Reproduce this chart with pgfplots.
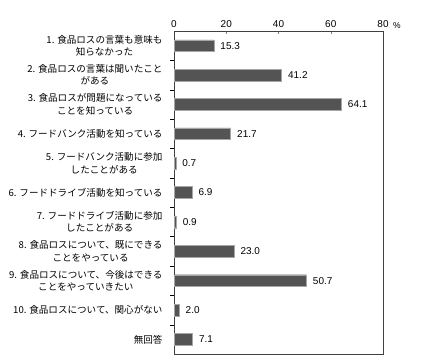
\documentclass[border=0pt]{standalone}
\usepackage{fontspec}
\setmainfont{Liberation Sans}
\newfontfamily\jp{Noto Sans CJK JP}
\usepackage{pgfplots}
\pgfplotsset{compat=1.18}
\pgfplotstableread{
y v
0 15.3
1 41.2
2 64.1
3 21.7
4 0.7
5 6.9
6 0.9
7 23.0
8 50.7
9 2.0
10 7.1
}\datatable
\begin{document}
\begin{tikzpicture}
\begin{axis}[
  scale only axis, width=209bp, height=323bp,
  xbar, bar width=0.4,
  xmin=0, xmax=80, ymin=-0.5, ymax=10.5, y dir=reverse,
  xtick={0,20,...,80}, xtick pos=upper, xticklabel pos=upper,
  ytick pos=left,
  xtick align=inside, major tick length=3bp,
  xticklabel style={font=\fontsize{10}{12}\selectfont},
  /pgf/number format/assume math mode=true,
  ytick={0,...,10},
  ytick style={draw=none},
  yticklabels={
    {1. 食品ロスの言葉も意味も\\知らなかった},
    {2. 食品ロスの言葉は聞いたこと\\がある},
    {3. 食品ロスが問題になっている\\ことを知っている},
    {4. フードバンク活動を知っている},
    {5. フードバンク活動に参加\\したことがある},
    {6. フードドライブ活動を知っている},
    {7. フードドライブ活動に参加\\したことがある},
    {8. 食品ロスについて、既にできる\\ことをやっている},
    {9. 食品ロスについて、今後はできる\\ことをやっていきたい},
    {10. 食品ロスについて、関心がない},
    {無回答}},
  yticklabel style={align=center, font=\jp\fontsize{9.6}{12.3}\selectfont, xshift=-5bp},
  extra y ticks={0.5,1.5,...,9.5},
  extra y tick labels={},
  extra y tick style={ytick style={draw=black}, tick align=outside, major tick length=4bp, ytick pos=left},
  axis line style={black!75},
  nodes near coords,
  nodes near coords style={font=\fontsize{10}{12}\selectfont, xshift=3bp,
    /pgf/number format/.cd, fixed, fixed zerofill, precision=1, assume math mode=true},
]
\addplot[fill=black!67, draw=black!35] table[x=v, y=y] {\datatable};
\end{axis}
\node[font=\fontsize{8.5}{10}\selectfont] at ([xshift=14bp,yshift=5bp]current axis.north east) {\%};
\pgfresetboundingbox
\path ([xshift=-174bp,yshift=-6bp]current axis.south west) rectangle ([xshift=59bp,yshift=31bp]current axis.north east);
\end{tikzpicture}
\end{document}
